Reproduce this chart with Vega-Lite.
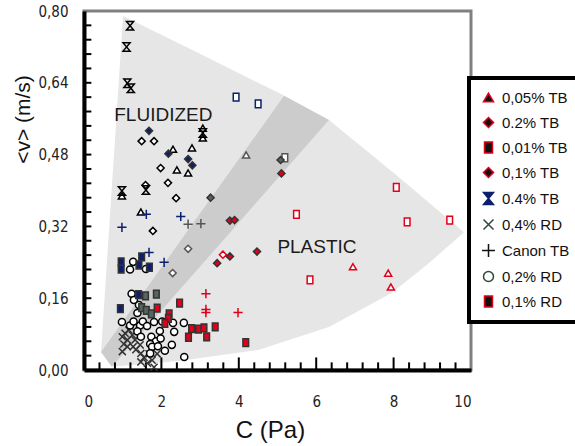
{
  "$schema": "https://vega.github.io/schema/vega-lite/v6.json",
  "width": 387,
  "height": 359,
  "autosize": "none",
  "padding": {"left": 84, "top": 11, "right": 104, "bottom": 76},
  "background": "white",
  "config": {
    "view": {"stroke": "#808080", "strokeWidth": 3},
    "axis": {"grid": false, "ticks": false, "zindex": 1, "domainColor": "black", "domainWidth": 4, "labelOverlap": false, "labelFont": "Liberation Sans Narrow, DejaVu Sans Condensed, Liberation Sans, sans-serif", "labelFontSize": 15, "labelColor": "#222", "titleFont": "Liberation Sans", "titleFontSize": 21, "titleFontWeight": "normal", "titleColor": "#111"},
    "legend": {"strokeWidth": 4}
  },
  "datasets": {
    "fan": [
      {"i": 0, "x": 1.01, "y": 0.789}, {"i": 1, "x": 2.97, "y": 0.706}, {"i": 2, "x": 5.04, "y": 0.617},
      {"i": 3, "x": 6.33, "y": 0.557}, {"i": 4, "x": 8.06, "y": 0.435}, {"i": 5, "x": 9.82, "y": 0.307},
      {"i": 6, "x": 8.91, "y": 0.238}, {"i": 7, "x": 7.96, "y": 0.172}, {"i": 8, "x": 6.33, "y": 0.096},
      {"i": 9, "x": 4.52, "y": 0.045}, {"i": 10, "x": 2.45, "y": 0.02}, {"i": 11, "x": 0.72, "y": 0.007},
      {"i": 12, "x": 0.44, "y": 0.04}
    ],
    "band": [
      {"i": 0, "x": 0.44, "y": 0.04}, {"i": 1, "x": 5.17, "y": 0.611}, {"i": 2, "x": 6.33, "y": 0.557}, {"i": 3, "x": 0.72, "y": 0.007}
    ],
    "labels": [
      {"label": "FLUIDIZED", "x": 2.05, "y": 0.569},
      {"label": "PLASTIC", "x": 6.02, "y": 0.274}
    ],
    "yticks": [
      {"y": 0.032}, {"y": 0.064}, {"y": 0.096}, {"y": 0.128}, {"y": 0.16}, {"y": 0.192}, {"y": 0.224}, {"y": 0.256},
      {"y": 0.288}, {"y": 0.32}, {"y": 0.352}, {"y": 0.384}, {"y": 0.416}, {"y": 0.448}, {"y": 0.48}, {"y": 0.512},
      {"y": 0.544}, {"y": 0.576}, {"y": 0.608}, {"y": 0.64}, {"y": 0.672}, {"y": 0.704}, {"y": 0.736}, {"y": 0.768}
    ],
    "xticksMinor": [
      {"x": 0.4}, {"x": 0.8}, {"x": 1.2}, {"x": 1.6}, {"x": 2.4}, {"x": 2.8}, {"x": 3.2}, {"x": 3.6},
      {"x": 4.4}, {"x": 4.8}, {"x": 5.2}, {"x": 5.6}, {"x": 6.4}, {"x": 6.8}, {"x": 7.2}, {"x": 7.6},
      {"x": 8.4}, {"x": 8.8}, {"x": 9.2}, {"x": 9.6}
    ],
    "xticksMajor": [
      {"x": 2}, {"x": 4}, {"x": 6}, {"x": 8}
    ],
    "points": [
      {"series": "0,05% TB", "regime": "fluidized", "x": 3.07, "y": 0.539},
      {"series": "0,05% TB", "regime": "fluidized", "x": 3.07, "y": 0.517},
      {"series": "0,05% TB", "regime": "fluidized", "x": 2.30, "y": 0.492},
      {"series": "0,05% TB", "regime": "fluidized", "x": 2.79, "y": 0.495},
      {"series": "0,05% TB", "regime": "fluidized", "x": 2.40, "y": 0.446},
      {"series": "0,05% TB", "regime": "fluidized", "x": 2.69, "y": 0.439},
      {"series": "0,05% TB", "regime": "fluidized", "x": 1.47, "y": 0.352},
      {"series": "0,05% TB", "regime": "fluidized", "x": 0.98, "y": 0.388},
      {"series": "0,05% TB", "regime": "transition", "x": 4.19, "y": 0.479},
      {"series": "0,05% TB", "regime": "plastic", "x": 6.95, "y": 0.230},
      {"series": "0,05% TB", "regime": "plastic", "x": 7.86, "y": 0.216},
      {"series": "0,05% TB", "regime": "plastic", "x": 7.93, "y": 0.185},

      {"series": "0.2% TB", "regime": "fluidized", "x": 1.49, "y": 0.510},
      {"series": "0.2% TB", "regime": "fluidized", "x": 1.81, "y": 0.510},
      {"series": "0.2% TB", "regime": "fluidized", "x": 1.98, "y": 0.450},
      {"series": "0.2% TB", "regime": "fluidized", "x": 2.17, "y": 0.417},
      {"series": "0.2% TB", "regime": "fluidized", "x": 1.59, "y": 0.412},
      {"series": "0.2% TB", "regime": "fluidized", "x": 2.38, "y": 0.383},
      {"series": "0.2% TB", "regime": "fluidized", "x": 1.78, "y": 0.310},
      {"series": "0.2% TB", "regime": "transition", "x": 2.69, "y": 0.270},
      {"series": "0.2% TB", "regime": "transition", "x": 2.29, "y": 0.216},
      {"series": "0.2% TB", "regime": "plastic", "x": 3.59, "y": 0.257},

      {"series": "0,01% TB", "regime": "fluidized", "x": 3.93, "y": 0.608},
      {"series": "0,01% TB", "regime": "fluidized", "x": 4.50, "y": 0.593},
      {"series": "0,01% TB", "regime": "transition", "x": 5.19, "y": 0.473},
      {"series": "0,01% TB", "regime": "plastic", "x": 5.49, "y": 0.347},
      {"series": "0,01% TB", "regime": "plastic", "x": 8.07, "y": 0.407},
      {"series": "0,01% TB", "regime": "plastic", "x": 8.35, "y": 0.330},
      {"series": "0,01% TB", "regime": "plastic", "x": 5.84, "y": 0.201},
      {"series": "0,01% TB", "regime": "plastic", "x": 9.45, "y": 0.334},

      {"series": "0,1% TB", "regime": "fluidized", "x": 1.68, "y": 0.533},
      {"series": "0,1% TB", "regime": "fluidized", "x": 2.18, "y": 0.482},
      {"series": "0,1% TB", "regime": "fluidized", "x": 2.69, "y": 0.470},
      {"series": "0,1% TB", "regime": "fluidized", "x": 2.80, "y": 0.456},
      {"series": "0,1% TB", "regime": "transition", "x": 3.27, "y": 0.384},
      {"series": "0,1% TB", "regime": "transition", "x": 5.08, "y": 0.468},
      {"series": "0,1% TB", "regime": "plastic", "x": 5.10, "y": 0.438},
      {"series": "0,1% TB", "regime": "plastic", "x": 3.77, "y": 0.333},
      {"series": "0,1% TB", "regime": "plastic", "x": 3.89, "y": 0.334},
      {"series": "0,1% TB", "regime": "plastic", "x": 3.44, "y": 0.238},
      {"series": "0,1% TB", "regime": "plastic", "x": 3.77, "y": 0.253},
      {"series": "0,1% TB", "regime": "plastic", "x": 4.47, "y": 0.264},

      {"series": "0.4% TB", "regime": "fluidized", "x": 1.19, "y": 0.767},
      {"series": "0.4% TB", "regime": "fluidized", "x": 1.10, "y": 0.720},
      {"series": "0.4% TB", "regime": "fluidized", "x": 1.12, "y": 0.639},
      {"series": "0.4% TB", "regime": "fluidized", "x": 1.21, "y": 0.628},
      {"series": "0.4% TB", "regime": "fluidized", "x": 0.98, "y": 0.399},
      {"series": "0.4% TB", "regime": "fluidized", "x": 1.60, "y": 0.401},
      {"series": "0.4% TB", "regime": "fluidized", "x": 3.07, "y": 0.528},

      {"series": "0,4% RD", "regime": "transition", "x": 0.99, "y": 0.074},
      {"series": "0,4% RD", "regime": "transition", "x": 1.06, "y": 0.082},
      {"series": "0,4% RD", "regime": "transition", "x": 1.16, "y": 0.089},
      {"series": "0,4% RD", "regime": "transition", "x": 1.21, "y": 0.096},
      {"series": "0,4% RD", "regime": "transition", "x": 1.12, "y": 0.067},
      {"series": "0,4% RD", "regime": "transition", "x": 1.03, "y": 0.058},
      {"series": "0,4% RD", "regime": "transition", "x": 0.99, "y": 0.041},
      {"series": "0,4% RD", "regime": "transition", "x": 1.25, "y": 0.078},
      {"series": "0,4% RD", "regime": "transition", "x": 1.27, "y": 0.052},
      {"series": "0,4% RD", "regime": "transition", "x": 1.12, "y": 0.052},
      {"series": "0,4% RD", "regime": "fluidized", "x": 1.34, "y": 0.045},
      {"series": "0,4% RD", "regime": "fluidized", "x": 1.47, "y": 0.037},
      {"series": "0,4% RD", "regime": "fluidized", "x": 1.55, "y": 0.028},
      {"series": "0,4% RD", "regime": "fluidized", "x": 1.47, "y": 0.018},
      {"series": "0,4% RD", "regime": "fluidized", "x": 1.64, "y": 0.015},
      {"series": "0,4% RD", "regime": "fluidized", "x": 1.76, "y": 0.022},
      {"series": "0,4% RD", "regime": "fluidized", "x": 1.68, "y": 0.036},
      {"series": "0,4% RD", "regime": "fluidized", "x": 1.89, "y": 0.036},
      {"series": "0,4% RD", "regime": "fluidized", "x": 1.81, "y": 0.006},
      {"series": "0,4% RD", "regime": "fluidized", "x": 1.45, "y": 0.056},
      {"series": "0,4% RD", "regime": "transition", "x": 1.32, "y": 0.067},

      {"series": "Canon TB", "regime": "fluidized", "x": 1.61, "y": 0.347},
      {"series": "Canon TB", "regime": "fluidized", "x": 0.98, "y": 0.318},
      {"series": "Canon TB", "regime": "fluidized", "x": 2.50, "y": 0.342},
      {"series": "Canon TB", "regime": "fluidized", "x": 1.68, "y": 0.262},
      {"series": "Canon TB", "regime": "fluidized", "x": 2.07, "y": 0.240},
      {"series": "Canon TB", "regime": "transition", "x": 2.69, "y": 0.325},
      {"series": "Canon TB", "regime": "transition", "x": 3.02, "y": 0.326},
      {"series": "Canon TB", "regime": "plastic", "x": 3.15, "y": 0.170},
      {"series": "Canon TB", "regime": "plastic", "x": 3.15, "y": 0.135},
      {"series": "Canon TB", "regime": "plastic", "x": 3.15, "y": 0.128},
      {"series": "Canon TB", "regime": "plastic", "x": 3.98, "y": 0.128},

      {"series": "0,2% RD", "regime": "fluidized", "x": 1.27, "y": 0.241},
      {"series": "0,2% RD", "regime": "fluidized", "x": 1.19, "y": 0.224},
      {"series": "0,2% RD", "regime": "fluidized", "x": 1.60, "y": 0.225},
      {"series": "0,2% RD", "regime": "fluidized", "x": 1.23, "y": 0.170},
      {"series": "0,2% RD", "regime": "fluidized", "x": 1.29, "y": 0.156},
      {"series": "0,2% RD", "regime": "fluidized", "x": 1.42, "y": 0.145},
      {"series": "0,2% RD", "regime": "fluidized", "x": 1.38, "y": 0.127},
      {"series": "0,2% RD", "regime": "fluidized", "x": 0.98, "y": 0.107},
      {"series": "0,2% RD", "regime": "fluidized", "x": 1.19, "y": 0.099},
      {"series": "0,2% RD", "regime": "fluidized", "x": 1.28, "y": 0.108},
      {"series": "0,2% RD", "regime": "fluidized", "x": 1.45, "y": 0.099},
      {"series": "0,2% RD", "regime": "fluidized", "x": 1.52, "y": 0.108},
      {"series": "0,2% RD", "regime": "fluidized", "x": 1.63, "y": 0.098},
      {"series": "0,2% RD", "regime": "fluidized", "x": 1.81, "y": 0.107},
      {"series": "0,2% RD", "regime": "fluidized", "x": 2.02, "y": 0.108},
      {"series": "0,2% RD", "regime": "fluidized", "x": 2.30, "y": 0.105},
      {"series": "0,2% RD", "regime": "fluidized", "x": 2.58, "y": 0.105},
      {"series": "0,2% RD", "regime": "fluidized", "x": 1.38, "y": 0.086},
      {"series": "0,2% RD", "regime": "fluidized", "x": 1.47, "y": 0.074},
      {"series": "0,2% RD", "regime": "fluidized", "x": 1.74, "y": 0.074},
      {"series": "0,2% RD", "regime": "fluidized", "x": 1.86, "y": 0.064},
      {"series": "0,2% RD", "regime": "fluidized", "x": 1.96, "y": 0.087},
      {"series": "0,2% RD", "regime": "fluidized", "x": 1.98, "y": 0.070},
      {"series": "0,2% RD", "regime": "fluidized", "x": 2.33, "y": 0.085},
      {"series": "0,2% RD", "regime": "fluidized", "x": 1.71, "y": 0.058},
      {"series": "0,2% RD", "regime": "fluidized", "x": 1.76, "y": 0.052},
      {"series": "0,2% RD", "regime": "fluidized", "x": 1.91, "y": 0.053},
      {"series": "0,2% RD", "regime": "fluidized", "x": 2.09, "y": 0.043},
      {"series": "0,2% RD", "regime": "fluidized", "x": 2.27, "y": 0.056},
      {"series": "0,2% RD", "regime": "fluidized", "x": 1.71, "y": 0.037},
      {"series": "0,2% RD", "regime": "fluidized", "x": 2.59, "y": 0.029},

      {"series": "0,1% RD", "regime": "fluidized", "x": 0.96, "y": 0.241},
      {"series": "0,1% RD", "regime": "fluidized", "x": 0.96, "y": 0.225},
      {"series": "0,1% RD", "regime": "fluidized", "x": 1.49, "y": 0.252},
      {"series": "0,1% RD", "regime": "fluidized", "x": 1.42, "y": 0.234},
      {"series": "0,1% RD", "regime": "fluidized", "x": 1.69, "y": 0.229},
      {"series": "0,1% RD", "regime": "fluidized", "x": 1.41, "y": 0.168},
      {"series": "0,1% RD", "regime": "fluidized", "x": 0.94, "y": 0.137},
      {"series": "0,1% RD", "regime": "transition", "x": 1.59, "y": 0.165},
      {"series": "0,1% RD", "regime": "transition", "x": 1.87, "y": 0.169},
      {"series": "0,1% RD", "regime": "transition", "x": 1.49, "y": 0.139},
      {"series": "0,1% RD", "regime": "transition", "x": 1.61, "y": 0.133},
      {"series": "0,1% RD", "regime": "transition", "x": 1.74, "y": 0.125},
      {"series": "0,1% RD", "regime": "plastic", "x": 1.89, "y": 0.138},
      {"series": "0,1% RD", "regime": "plastic", "x": 2.47, "y": 0.149},
      {"series": "0,1% RD", "regime": "plastic", "x": 2.20, "y": 0.125},
      {"series": "0,1% RD", "regime": "plastic", "x": 2.18, "y": 0.115},
      {"series": "0,1% RD", "regime": "plastic", "x": 2.09, "y": 0.104},
      {"series": "0,1% RD", "regime": "plastic", "x": 2.78, "y": 0.092},
      {"series": "0,1% RD", "regime": "plastic", "x": 2.96, "y": 0.091},
      {"series": "0,1% RD", "regime": "plastic", "x": 3.10, "y": 0.094},
      {"series": "0,1% RD", "regime": "plastic", "x": 3.39, "y": 0.096},
      {"series": "0,1% RD", "regime": "plastic", "x": 2.70, "y": 0.073},
      {"series": "0,1% RD", "regime": "plastic", "x": 3.17, "y": 0.074},
      {"series": "0,1% RD", "regime": "plastic", "x": 4.18, "y": 0.061}
    ]
  },
  "layer": [
    {
      "data": {"name": "fan"},
      "mark": {"type": "line", "fill": "#e6e6e6", "stroke": null, "strokeWidth": 0, "interpolate": "linear"},
      "encoding": {
        "x": {"field": "x", "type": "quantitative", "scale": {"domain": [0, 10], "nice": false, "zero": false}},
        "y": {"field": "y", "type": "quantitative", "scale": {"domain": [0, 0.8], "nice": false, "zero": false}},
        "order": {"field": "i", "type": "quantitative"}
      }
    },
    {
      "data": {"name": "band"},
      "mark": {"type": "line", "fill": "#cccccc", "stroke": null, "strokeWidth": 0, "interpolate": "linear"},
      "encoding": {
        "x": {"field": "x", "type": "quantitative", "scale": {"domain": [0, 10], "nice": false, "zero": false}},
        "y": {"field": "y", "type": "quantitative", "scale": {"domain": [0, 0.8], "nice": false, "zero": false}},
        "order": {"field": "i", "type": "quantitative"}
      }
    },
    {
      "data": {"name": "labels"},
      "mark": {"type": "text", "font": "Liberation Sans", "fontSize": 19, "color": "#1a1a1a", "align": "center", "baseline": "middle"},
      "encoding": {
        "x": {"field": "x", "type": "quantitative", "scale": {"domain": [0, 10], "nice": false, "zero": false}},
        "y": {"field": "y", "type": "quantitative", "scale": {"domain": [0, 0.8], "nice": false, "zero": false}},
        "text": {"field": "label"}
      }
    },
    {
      "data": {"name": "yticks"},
      "mark": {"type": "rule", "color": "black", "strokeWidth": 2},
      "encoding": {
        "x": {"datum": 0, "type": "quantitative", "scale": {"domain": [0, 10], "nice": false, "zero": false}},
        "x2": {"datum": 0.19},
        "y": {"field": "y", "type": "quantitative", "scale": {"domain": [0, 0.8], "nice": false, "zero": false}}
      }
    },
    {
      "data": {"name": "xticksMinor"},
      "mark": {"type": "rule", "color": "black", "strokeWidth": 2},
      "encoding": {
        "x": {"field": "x", "type": "quantitative", "scale": {"domain": [0, 10], "nice": false, "zero": false}},
        "y": {"datum": 0, "type": "quantitative", "scale": {"domain": [0, 0.8], "nice": false, "zero": false}},
        "y2": {"datum": 0.017}
      }
    },
    {
      "data": {"name": "xticksMajor"},
      "mark": {"type": "rule", "color": "black", "strokeWidth": 2},
      "encoding": {
        "x": {"field": "x", "type": "quantitative", "scale": {"domain": [0, 10], "nice": false, "zero": false}},
        "y": {"datum": 0, "type": "quantitative", "scale": {"domain": [0, 0.8], "nice": false, "zero": false}},
        "y2": {"datum": 0.028}
      }
    },
    {
      "data": {"name": "points"},
      "transform": [{"filter": "false"}],
      "mark": {"type": "point", "size": 80, "strokeWidth": 2.2, "opacity": 1},
      "encoding": {
        "x": {"field": "x", "type": "quantitative", "scale": {"domain": [0, 10], "nice": false, "zero": false}},
        "y": {"field": "y", "type": "quantitative", "scale": {"domain": [0, 0.8], "nice": false, "zero": false}},
        "shape": {
          "field": "series", "type": "nominal",
          "scale": {
            "domain": ["0,05% TB", "0.2% TB", "0,01% TB", "0,1% TB", "0.4% TB", "0,4% RD", "Canon TB", "0,2% RD", "0,1% RD"],
            "range": ["triangle-up", "diamond", "M-0.8,-1.1H0.8V1.1H-0.8Z", "diamond", "M-1,-1.2H1L-1,1.2H1Z", "M-1,-1L1,1M-1,1L1,-1", "M-1.3,0H1.3M0,-1.3V1.3", "circle", "M-0.8,-1.1H0.8V1.1H-0.8Z"]
          },
          "legend": {
            "title": null, "orient": "none", "legendX": 385, "legendY": 67,
            "padding": 12, "rowPadding": 8,
            "strokeColor": "black", "fillColor": "white",
            "labelFont": "Liberation Sans", "labelFontSize": 15, "labelColor": "#111", "labelOffset": 6
          }
        },
        "fill": {
          "field": "series", "type": "nominal",
          "scale": {
            "domain": ["0,05% TB", "0.2% TB", "0,01% TB", "0,1% TB", "0.4% TB", "0,4% RD", "Canon TB", "0,2% RD", "0,1% RD"],
            "range": ["#111111", "#111111", "#111111", "#111111", "#0c1f6e", "transparent", "transparent", "#ffffff", "#111111"]
          },
          "legend": {
            "title": null, "orient": "none", "legendX": 385, "legendY": 67,
            "padding": 12, "rowPadding": 8,
            "strokeColor": "black", "fillColor": "white",
            "labelFont": "Liberation Sans", "labelFontSize": 15, "labelColor": "#111", "labelOffset": 6
          }
        },
        "stroke": {
          "field": "series", "type": "nominal",
          "scale": {
            "domain": ["0,05% TB", "0.2% TB", "0,01% TB", "0,1% TB", "0.4% TB", "0,4% RD", "Canon TB", "0,2% RD", "0,1% RD"],
            "range": ["#e2001a", "#e2001a", "#e2001a", "#e2001a", "#0c1f6e", "#2d4a3a", "#111111", "#2d4a3a", "#e2001a"]
          },
          "legend": {
            "title": null, "orient": "none", "legendX": 385, "legendY": 67,
            "padding": 12, "rowPadding": 8,
            "strokeColor": "black", "fillColor": "white",
            "labelFont": "Liberation Sans", "labelFontSize": 15, "labelColor": "#111", "labelOffset": 6
          }
        }
      }
    },
    {
      "data": {"name": "points"},
      "mark": {"type": "point", "size": 50, "strokeWidth": 1.5, "opacity": 1},
      "encoding": {
        "x": {
          "field": "x", "type": "quantitative",
          "scale": {"domain": [0, 10], "nice": false, "zero": false},
          "axis": {
            "title": "C (Pa)",
            "titleFontSize": 24,
            "values": [0, 2, 4, 6, 8, 10],
            "labelPadding": 24,
            "titleX": 186, "titleY": 67, "titleBaseline": "alphabetic", "titleAlign": "center"
          }
        },
        "y": {
          "field": "y", "type": "quantitative",
          "scale": {"domain": [0, 0.8], "nice": false, "zero": false},
          "axis": {
            "title": "<v> (m/s)",
            "values": [0, 0.16, 0.32, 0.48, 0.64, 0.8],
            "labelExpr": "replace(format(datum.value, '.2f'), '.', ',')",
            "labelPadding": 16,
            "titleX": -55, "titleY": 108, "titleBaseline": "alphabetic", "titleAlign": "center", "titleAngle": -90
          }
        },
        "shape": {
          "field": "series", "type": "nominal",
          "scale": {
            "domain": ["0,05% TB", "0.2% TB", "0,01% TB", "0,1% TB", "0.4% TB", "0,4% RD", "Canon TB", "0,2% RD", "0,1% RD"],
            "range": ["triangle-up", "diamond", "M-0.8,-1.1H0.8V1.1H-0.8Z", "diamond", "M-1,-1.2H1L-1,1.2H1Z", "M-1,-1L1,1M-1,1L1,-1", "M-1.3,0H1.3M0,-1.3V1.3", "circle", "M-0.8,-1.1H0.8V1.1H-0.8Z"]
          },
          "legend": null
        },
        "fill": {
          "condition": [
            {"test": "indexof(['0,05% TB','0.2% TB','0,01% TB','0,2% RD'], datum.series) >= 0", "value": "white"},
            {"test": "indexof(['0.4% TB','0,4% RD','Canon TB'], datum.series) >= 0", "value": "transparent"}
          ],
          "field": "regime", "type": "nominal",
          "scale": {"domain": ["fluidized", "transition", "plastic"], "range": ["#0c1f6e", "#56665f", "#e2001a"]},
          "legend": null
        },
        "stroke": {
          "condition": [
            {"test": "indexof(['0,1% TB','0,1% RD','0,4% RD'], datum.series) >= 0", "value": "#333333"},
            {"test": "datum.regime === 'fluidized' && indexof(['0,01% TB','Canon TB'], datum.series) >= 0", "value": "#0c1f6e"}
          ],
          "field": "regime", "type": "nominal",
          "scale": {"domain": ["fluidized", "transition", "plastic"], "range": ["#000000", "#555555", "#e2001a"]},
          "legend": null
        }
      }
    }
  ],
  "resolve": {"scale": {"fill": "independent", "stroke": "independent", "shape": "independent"}}
}
